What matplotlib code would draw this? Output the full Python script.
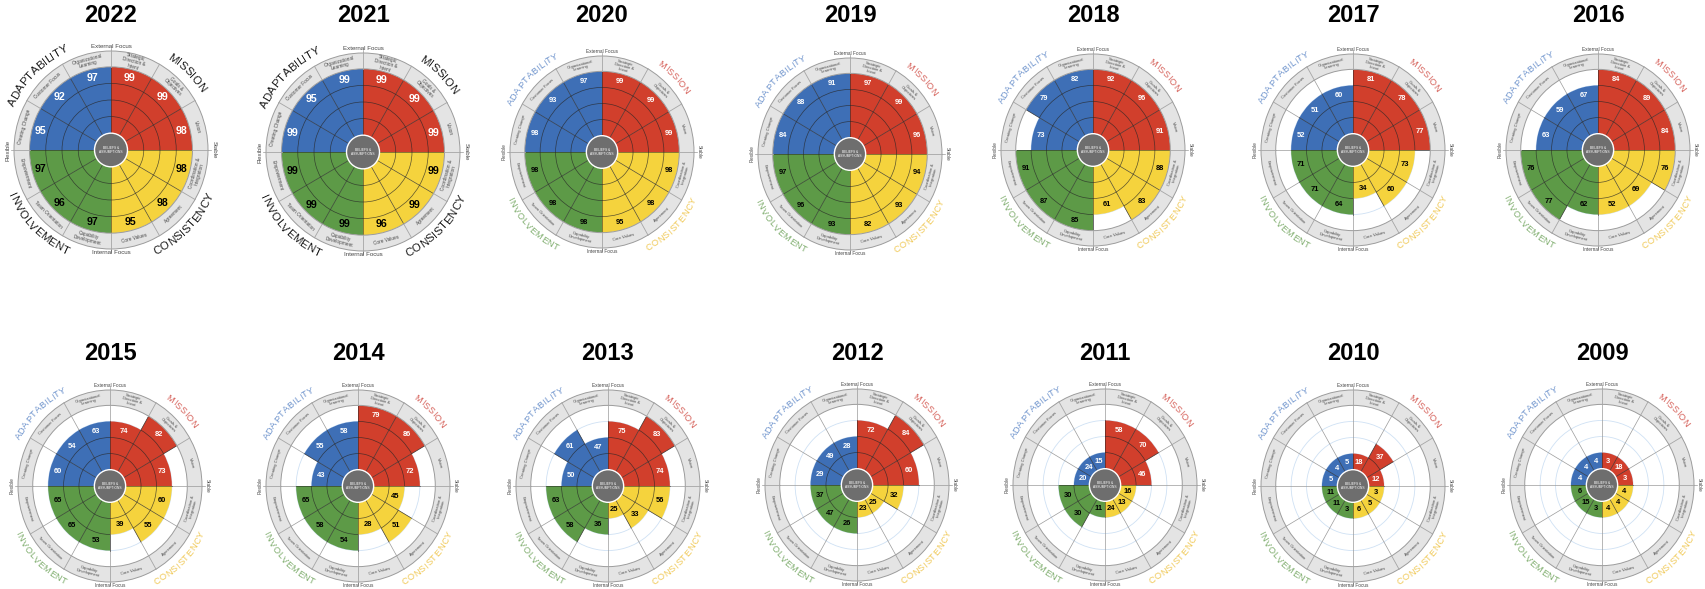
"""
Denison culture circumplex, one small chart per survey year (2022 -> 2009).
"""

import math
import matplotlib.pyplot as plt
from matplotlib.patches import Wedge, Circle, Arc
from matplotlib.font_manager import FontProperties
from matplotlib.textpath import text_to_path

plt.rcParams["font.family"] = ["Liberation Sans", "DejaVu Sans"]

# ─── Data ─────────────────────────────────────────────────────────────────────

years = [2022, 2021, 2020, 2019, 2018, 2017, 2016,
         2015, 2014, 2013, 2012, 2011, 2010, 2009]

# the 12 indexes, clockwise from 12 o'clock
indexes = ["Strategic\nDirection &\nIntent", "Goals &\nObjectives", "Vision",
           "Coordination &\nIntegration", "Agreement", "Core Values",
           "Capability\nDevelopment", "Team Orientation", "Empowerment",
           "Creating Change", "Customer Focus", "Organizational\nLearning"]
traits = ["MISSION", "CONSISTENCY", "INVOLVEMENT", "ADAPTABILITY"]
axis_labels = ["External Focus", "Stable", "Internal Focus", "Flexible"]

scores_2022 = [99, 99, 98, 98, 98, 95, 97, 96, 97, 95, 92, 97]
scores_2021 = [99, 99, 99, 99, 99, 96, 99, 99, 99, 99, 95, 99]
scores_2020 = [99, 99, 99, 98, 98, 95, 98, 98, 98, 98, 93, 97]
scores_2019 = [97, 99, 96, 94, 93, 82, 93, 96, 97, 84, 88, 91]
scores_2018 = [92, 96, 91, 88, 83, 61, 85, 87, 91, 73, 79, 82]
scores_2017 = [81, 78, 77, 73, 60, 34, 64, 71, 71, 52, 51, 60]
scores_2016 = [84, 89, 84, 76, 69, 52, 62, 77, 76, 63, 59, 67]
scores_2015 = [74, 82, 73, 60, 55, 39, 53, 65, 65, 60, 54, 63]
scores_2014 = [79, 86, 72, 45, 51, 28, 54, 58, 65, 43, 55, 58]
scores_2013 = [75, 83, 74, 56, 33, 25, 36, 58, 63, 50, 61, 47]
scores_2012 = [72, 84, 60, 32, 25, 23, 26, 47, 37, 29, 49, 28]
scores_2011 = [58, 70, 46, 16, 13, 24, 11, 30, 30, 20, 24, 15]
scores_2010 = [18, 37, 12, 3, 5, 6, 3, 11, 11, 5, 4, 5]
scores_2009 = [3, 18, 3, 4, 4, 4, 3, 15, 6, 4, 4, 4]

all_scores = [scores_2022, scores_2021, scores_2020, scores_2019, scores_2018,
              scores_2017, scores_2016, scores_2015, scores_2014, scores_2013,
              scores_2012, scores_2011, scores_2010, scores_2009]

# ─── Styling / layout ─────────────────────────────────────────────────────────

FIG_W, FIG_H, DPI = 1705, 589, 100

fill_colors  = ["#d13f2c", "#f5d33d", "#5d9a47", "#3e6fb6"]
trait_colors = ["#d6615a", "#f0c957", "#80ae6f", "#6f94cd"]
num_colors   = ["white", "black", "black", "white"]
trait_mid    = [45, -45, -135, 135]

R_CORE, R_RING, R_OUT = 0.17, 0.84, 1.0
STEP = (R_RING - R_CORE) / 4

# chart centres in pixels
cx_px = [111, 363, 602, 850, 1093, 1353, 1598,
         110, 358, 608, 857, 1105, 1353, 1602]
cy_px = [150, 152, 152, 154, 150, 150, 150,
         486, 486, 486, 485, 485, 486, 485]
title_y = [15] * 7 + [353] * 7


def tangent_rot(deg, rx, ry):
    a = math.radians(deg)
    radial = math.degrees(math.atan2(ry * math.sin(a), rx * math.cos(a)))
    return radial - 90 if deg > 0 else radial + 90


def char_width(ch, fp):
    w2 = text_to_path.get_text_width_height_descent("HH", fp, ismath=False)[0]
    w3 = text_to_path.get_text_width_height_descent("H" + ch + "H", fp, ismath=False)[0]
    return w3 - w2


def curved_text(ax, word, mid, radius, fs, color, rx, ry, track=0.0):
    fp = FontProperties(family="Liberation Sans", size=fs)
    widths = [char_width(ch, fp) + track for ch in word]
    total = sum(widths)
    pt_per_unit = 0.72 * (rx + ry) / 2
    span = math.degrees(total / (pt_per_unit * radius))
    pos = 0.0
    for ch, w in zip(word, widths):
        frac = (pos + w / 2) / total
        if mid > 0:
            ang = mid + span / 2 - frac * span
        else:
            ang = mid - span / 2 + frac * span
        a = math.radians(ang)
        ax.text(radius * math.cos(a), radius * math.sin(a), ch, fontproperties=fp,
                color=color, ha="center", va="center",
                rotation=tangent_rot(ang, rx, ry), rotation_mode="anchor")
        pos += w


def draw_model(ax, scores, big, rx, ry):
    levels = [max(1, math.ceil(v / 25)) for v in scores]
    r_fill = [R_CORE + lv * STEP for lv in levels]

    # light grid of the empty chart
    for k in range(1, 4):
        ax.add_patch(Circle((0, 0), R_CORE + k * STEP, fill=False,
                            ec="#cfe1f4", lw=0.6, zorder=1))
    for i in range(12):
        a = math.radians(90 - 30 * i)
        ext = 1.03 if i % 3 == 0 else R_OUT
        ax.plot([R_CORE * math.cos(a), ext * math.cos(a)],
                [R_CORE * math.sin(a), ext * math.sin(a)],
                color="#9a9a9a", lw=0.5, zorder=1)

    # filled sectors
    for i, v in enumerate(scores):
        q = i // 3
        t2 = 90 - 30 * i
        t1 = t2 - 30
        ax.add_patch(Wedge((0, 0), r_fill[i], t1, t2, fc=fill_colors[q],
                           ec="none", zorder=2))
        for k in range(1, levels[i]):
            rr = R_CORE + k * STEP
            ax.add_patch(Arc((0, 0), 2 * rr, 2 * rr, theta1=t1, theta2=t2,
                             color="#262626", lw=0.5, alpha=0.75, zorder=3))
        # dark divider on the leading edge, up to the larger neighbour
        a = math.radians(t2)
        rmax = max(r_fill[i], r_fill[i - 1])
        ax.plot([R_CORE * math.cos(a), rmax * math.cos(a)],
                [R_CORE * math.sin(a), rmax * math.sin(a)],
                color="#262626", lw=0.5, alpha=0.75, zorder=3)

    # outer grey ring with index names
    ax.add_patch(Wedge((0, 0), R_OUT, 0, 360, width=R_OUT - R_RING,
                       fc="#e4e4e4", ec="#9c9c9c", lw=0.7, zorder=4))
    for i in range(12):
        a = math.radians(90 - 30 * i)
        ax.plot([R_RING * math.cos(a), R_OUT * math.cos(a)],
                [R_RING * math.sin(a), R_OUT * math.sin(a)],
                color="#a5a5a5", lw=0.6, zorder=5)
    r_lab = (R_RING + R_OUT) / 2
    for i, name in enumerate(indexes):
        mid = 75 - 30 * i
        if mid <= -180:
            mid += 360
        a = math.radians(mid)
        ax.text(r_lab * math.cos(a), r_lab * math.sin(a), name,
                fontsize=3.4 if big else 3.0, color="#4a4a4a", ha="center",
                va="center", linespacing=0.95, zorder=6,
                rotation=tangent_rot(mid, rx, ry), rotation_mode="anchor")

    # core
    ax.add_patch(Circle((0, 0), R_CORE, fc="#6e6e6e", ec="white", lw=1.0, zorder=6))
    ax.text(0, 0, "BELIEFS &\nASSUMPTIONS", fontsize=2.3, color="white",
            ha="center", va="center", linespacing=1.0, zorder=7)

    # scores
    for i, v in enumerate(scores):
        mid = 75 - 30 * i
        a = math.radians(mid)
        rr = r_fill[i] - 0.085
        ax.text(rr * math.cos(a), rr * math.sin(a), str(v),
                fontsize=7.6 if big else 5.4, weight="bold",
                color=num_colors[i // 3], ha="center", va="center", zorder=7)

    # axis captions
    fs_ax = 4.4 if big else 3.4
    ax.text(0, 1.045, axis_labels[0], fontsize=fs_ax, color="#444",
            ha="center", va="center")
    ax.text(0, -1.04, axis_labels[2], fontsize=fs_ax, color="#444",
            ha="center", va="center")
    ax.text(1.06, 0, axis_labels[1], fontsize=fs_ax, color="#444",
            ha="center", va="center", rotation=-90)
    ax.text(-1.06, 0, axis_labels[3], fontsize=fs_ax, color="#444",
            ha="center", va="center", rotation=90)

    # trait names around the circle
    for q, name in enumerate(traits):
        if big:
            curved_text(ax, name, trait_mid[q], 1.12, 8.2, "#1a1a1a", rx, ry, track=0.1)
        else:
            curved_text(ax, name, trait_mid[q], 1.115, 6.7, trait_colors[q], rx, ry, track=0.3)


fig = plt.figure(figsize=(FIG_W / DPI, FIG_H / DPI), dpi=DPI)
pad = 1.35

for n, (year, scores) in enumerate(zip(years, all_scores)):
    big = n < 2
    rx = 97 if big else 92
    ry = 99 if big else 96
    cx, cy = cx_px[n], cy_px[n]
    ax = fig.add_axes([(cx - pad * rx) / FIG_W, 1 - (cy + pad * ry) / FIG_H,
                       2 * pad * rx / FIG_W, 2 * pad * ry / FIG_H])
    ax.set_xlim(-pad, pad)
    ax.set_ylim(-pad, pad)
    ax.axis("off")
    draw_model(ax, scores, big, rx, ry)
    fig.text(cx / FIG_W, 1 - title_y[n] / FIG_H, str(year), fontsize=17,
             weight="bold", ha="center", va="center")

fig.savefig("out.png", dpi=DPI)
